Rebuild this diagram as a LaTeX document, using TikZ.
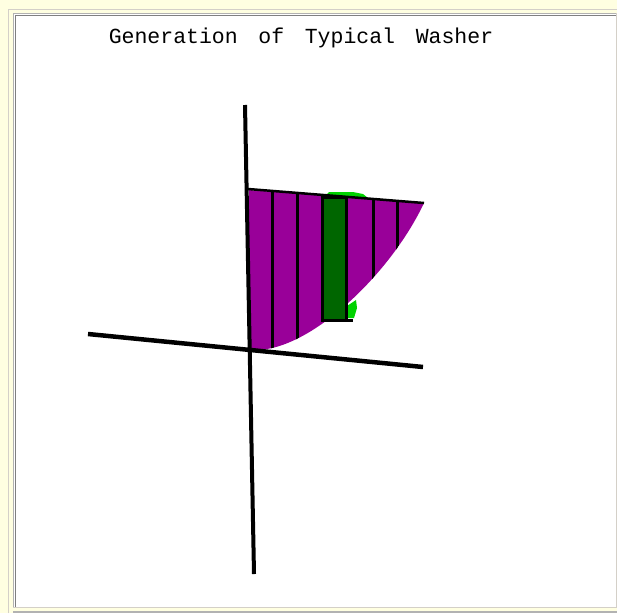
\documentclass[tikz,border=0pt]{standalone}
\usepackage{fontspec}
\newfontfamily\titlefont[WordSpace=1.6]{Liberation Mono}

\definecolor{panelyellow}{RGB}{255,255,225}
\definecolor{frameedge}{RGB}{212,208,200}
\definecolor{washerpurple}{RGB}{153,0,153}
\definecolor{washerdark}{RGB}{0,102,0}
\definecolor{washerlight}{RGB}{0,210,0}

\begin{document}
\begin{tikzpicture}[x=1pt, y=-1pt]
    \useasboundingbox (0,0) rectangle (617,613);

    % window frame
    \fill[panelyellow] (0,0) rectangle (617,613);
    \draw[frameedge, line width=1.5] (8.5,613) -- (8.5,9.5) -- (617,9.5);
    \fill[white] (13,13) rectangle (617,607);
    \draw[gray!60, line width=1] (13.5,607) -- (13.5,13.5) -- (617,13.5);
    \draw[gray, line width=1] (15,607) -- (15,15) -- (617,15);
    \draw[frameedge, line width=1] (13,607) -- (616,607) -- (616,13);
    \draw[gray!60, line width=1.5] (13,612) -- (617,612);

    \node[font=\titlefont\fontsize{21.5}{24}\selectfont, anchor=base] (title) at (301,43) {Generation of Typical Washer};

    \coordinate (topL) at (248,189);
    \coordinate (topR) at (424,203);
    \coordinate (botL) at (256,350);

    % region under the curve with its strips
    \begin{scope}
        \clip (249,190) -- (topR) .. controls (390,275) and (310,350) .. (botL) -- (249,350) -- cycle;
        \fill[washerpurple] (0,0) rectangle (617,613);
        \foreach \x in {272,297,373,397}
            \draw[line width=3] (\x,180) -- (\x,360);
    \end{scope}

    % washer
    \fill[washerlight] (324,197) -- (329,192) -- (353,192) -- (363,194) -- (368,198) -- cycle;
    \fill[washerlight] (347,306) -- (356,300) -- (357,308) -- (354,318) -- (347,318) -- cycle;
    \draw[fill=washerdark, line width=3] (322,197) rectangle (346.5,320);
    \draw[line width=3] (346.5,320) -- (353,320);

    \draw[line width=2.5] (topL) -- (topR);

    % axes
    \draw[line width=4] (245,105) -- (254,574);
    \draw[line width=4.5] (88,334) -- (423,367);
\end{tikzpicture}
\end{document}
